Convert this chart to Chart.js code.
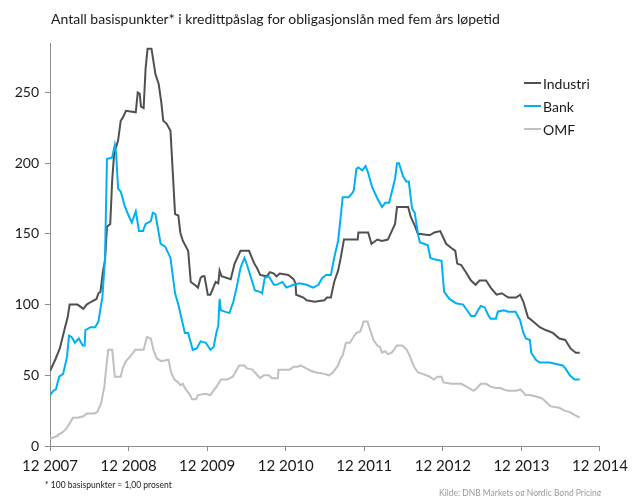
<!DOCTYPE html>
<html>
<head>
<meta charset="utf-8">
<script src="https://cdn.jsdelivr.net/npm/chart.js@4/dist/chart.umd.min.js"></script>
<style>
  body { margin: 0; background: #fff; }
  #wrap { position: relative; width: 634px; height: 496px; overflow: hidden; font-family: Lato, sans-serif; }
  #title { position: absolute; left: 51px; top: 10px; font-size: 14px; color: #1a1a1a; white-space: nowrap; }
  #note { position: absolute; left: 45px; top: 480px; font-size: 8.5px; color: #222; white-space: nowrap; }
  #source { position: absolute; left: 439px; top: 488px; font-size: 8.5px; color: #9a9a9a; white-space: nowrap; }
  canvas { position: absolute; left: 0; top: 0; }
</style>
</head>
<body>
<div id="wrap">
  <canvas id="graph" width="634" height="496"></canvas>
  <div id="title">Antall basispunkter* i kredittpåslag for obligasjonslån med fem års løpetid</div>
  <div id="note">* 100 basispunkter = 1,00 prosent</div>
  <div id="source">Kilde:  DNB Markets og Nordic Bond Pricing</div>
</div>
<script>
// months counted from december 2007
var seriesNames = ['Industri', 'Bank', 'OMF'];
var seriesColors = ['#505050', '#00b0f0', '#c0c0c0'];
var yearLabels = ['12 2007', '12 2008', '12 2009', '12 2010', '12 2011', '12 2012', '12 2013', '12 2014'];

var industriMonths = [0, 0.8, 1.5, 2.3, 2.7, 3.0, 4.2, 4.8, 5.1, 5.6, 6.3, 7.1, 7.4, 7.7, 8.1, 8.4, 8.7, 9.2, 9.5, 9.8,
  10.4, 10.8, 11.1, 11.6, 13.1, 13.4, 13.7, 13.9, 14.3, 14.6, 14.9, 15.5, 16.1, 16.6, 17.0, 17.3, 17.8, 18.4, 18.7, 19.1,
  19.6, 19.9, 20.3, 21.1, 21.5, 22.1, 22.6, 23.0, 23.3, 23.6, 24.1, 24.5, 25.3, 25.7, 25.9, 26.2, 27.6, 28.2, 29.1, 30.4,
  31.2, 31.6, 32.1, 33.1, 33.6, 34.2, 34.6, 35.1, 36.4, 37.2, 37.5, 37.6, 38.7, 39.2, 40.4, 41.9, 42.3, 42.9, 43.4, 44.0,
  44.4, 44.9, 47.0, 47.1, 48.6, 49.1, 50.0, 50.7, 51.6, 52.2, 52.7, 53.0, 54.7, 55.1, 55.7, 56.2, 56.6, 58.0, 58.7, 59.6,
  59.9, 60.5, 61.3, 61.9, 62.2, 62.8, 63.5, 64.3, 65.0, 65.6, 66.6, 67.3, 68.2, 69.0, 70.0, 71.2, 71.8, 72.3, 73.0, 73.8,
  74.8, 75.7, 76.8, 77.8, 78.7, 79.5, 80.3, 80.9];
var industriValues = [53, 61, 69, 84, 91, 100, 100, 98, 97, 100, 102, 104, 108, 109, 124, 131, 155, 157, 188, 207,
  216, 230, 232, 237, 236, 250, 249, 240, 239, 267, 281, 281, 263, 256, 243, 230, 228, 223, 198, 164,
  163, 151, 145, 138, 116, 114, 112, 119, 120, 120, 107, 107, 116, 115, 124, 120, 118, 129, 138, 138,
  129, 126, 121, 120, 123, 122, 120, 122, 121, 118, 115, 107, 105, 103, 102, 103, 105, 105, 116, 124,
  133, 146, 146, 151, 151, 143, 146, 145, 146, 152, 157, 169, 169, 162, 156, 150, 150, 149, 151, 152,
  149, 143, 140, 138, 129, 128, 123, 117, 114, 117, 117, 112, 107, 108, 105, 105, 107, 102, 91, 88,
  84, 82, 80, 76, 75, 69, 66, 66];

var bankMonths = [0, 0.5, 0.9, 1.4, 2.0, 2.6, 2.9, 3.3, 3.8, 4.4, 5.0, 5.3, 5.4, 6.2, 6.9, 7.4, 7.8, 8.0, 8.4, 8.7,
  9.5, 9.9, 10.1, 10.4, 10.8, 11.4, 12.0, 12.5, 13.1, 13.6, 14.2, 14.6, 15.4, 15.7, 16.1, 16.9, 17.6, 18.4, 19.1, 19.6,
  20.0, 20.6, 21.1, 21.8, 22.4, 23.0, 23.8, 24.5, 25.0, 25.4, 25.7, 25.9, 26.1, 26.7, 27.4, 28.0, 28.5, 29.1, 29.7, 30.1,
  30.9, 31.3, 32.1, 32.4, 32.8, 33.4, 34.2, 34.6, 35.5, 36.1, 37.2, 38.1, 39.2, 40.2, 41.0, 41.6, 42.2, 42.9, 43.4, 44.0,
  44.4, 44.7, 45.6, 46.2, 46.4, 46.8, 47.1, 47.7, 48.2, 48.6, 49.2, 50.0, 50.7, 51.2, 51.8, 52.7, 53.0, 53.3, 53.9, 54.4,
  54.8, 55.3, 55.7, 56.2, 56.5, 57.1, 57.7, 58.1, 58.7, 59.8, 60.2, 61.0, 62.0, 63.1, 63.7, 64.3, 64.9, 65.5, 65.8, 66.4,
  67.0, 67.3, 68.1, 68.4, 69.3, 70.0, 71.1, 71.8, 72.3, 72.7, 73.3, 73.5, 74.2, 74.8, 76.3, 78.3, 78.7, 79.4, 80.1, 80.9];
var bankValues = [36, 39, 40, 49, 51, 63, 78, 77, 73, 76, 71, 71, 82, 84, 84, 88, 100, 105, 133, 203,
  204, 213, 207, 182, 180, 170, 163, 158, 166, 152, 152, 157, 159, 165, 164, 143, 141, 133, 108, 100,
  92, 80, 80, 68, 69, 74, 73, 68, 70, 80, 85, 104, 96, 95, 94, 102, 112, 126, 133, 128,
  116, 110, 109, 108, 119, 120, 114, 114, 116, 112, 114, 115, 114, 112, 114, 119, 121, 121, 133, 145,
  162, 176, 176, 179, 181, 196, 197, 195, 198, 193, 183, 175, 169, 172, 172, 189, 200, 200, 191, 187,
  187, 168, 165, 150, 144, 143, 142, 133, 132, 131, 109, 104, 101, 100, 96, 92, 92, 97, 99, 98,
  92, 90, 90, 95, 96, 95, 95, 89, 80, 76, 75, 66, 61, 59, 59, 57, 55, 50, 47, 47];

var omfMonths = [0, 0.5, 1.1, 1.2, 1.7, 2.0, 2.6, 3.0, 3.5, 4.2, 5.1, 5.6, 6.8, 7.2, 7.8, 8.3, 8.6, 8.9, 9.5, 9.9,
  10.8, 11.1, 11.6, 12.2, 12.7, 13.0, 14.3, 14.8, 15.4, 15.8, 16.3, 17.0, 18.1, 18.5, 19.0, 19.6, 19.9, 20.3, 20.6, 21.4,
  21.7, 22.3, 22.6, 23.8, 24.5, 25.1, 25.3, 26.1, 27.1, 27.9, 28.3, 28.9, 29.7, 30.0, 30.9, 31.3, 32.1, 32.7, 33.4, 33.9,
  34.8, 34.9, 36.6, 37.2, 37.9, 38.2, 38.7, 39.5, 39.9, 40.7, 41.9, 42.6, 43.2, 44.0, 44.4, 44.7, 45.2, 45.8, 46.2, 46.8,
  47.4, 47.9, 48.5, 48.9, 49.4, 50.0, 50.4, 50.7, 51.2, 51.6, 52.2, 53.0, 53.8, 54.5, 55.0, 55.6, 56.2, 56.9, 58.0, 58.6,
  59.2, 59.8, 60.1, 61.3, 62.8, 63.2, 64.0, 64.7, 65.2, 65.8, 66.6, 67.3, 68.1, 68.8, 69.3, 70.0, 71.2, 71.8, 72.3, 72.6,
  73.3, 74.2, 75.0, 75.6, 76.0, 76.5, 77.8, 78.6, 79.4, 80.1, 80.9];
var omfValues = [5, 6, 7, 8, 9, 10, 13, 16, 20, 20, 21, 23, 23, 24, 30, 42, 56, 68, 68, 49,
  49, 55, 60, 63, 66, 68, 68, 77, 76, 68, 62, 60, 61, 52, 47, 45, 43, 44, 41, 36,
  33, 33, 36, 37, 36, 40, 41, 47, 47, 49, 52, 57, 57, 55, 54, 52, 48, 50, 50, 48,
  48, 54, 54, 56, 56, 57, 56, 54, 53, 52, 51, 50, 52, 57, 62, 64, 73, 73, 76, 80,
  81, 88, 88, 82, 75, 71, 70, 66, 67, 65, 66, 71, 71, 68, 63, 56, 52, 51, 49, 47,
  49, 49, 45, 44, 44, 43, 41, 39, 41, 44, 44, 42, 41, 41, 40, 39, 39, 40, 38, 36,
  36, 35, 34, 32, 30, 28, 27, 25, 24, 22, 20];

function toPoints(months, values) {
    var pts = [];
    for (let i = 0; i < months.length; i++) {
        pts.push({ x: months[i], y: values[i] });
    }
    return pts;
}
// pair up the month positions and the values for each line

var allMonths = [industriMonths, bankMonths, omfMonths];
var allValues = [industriValues, bankValues, omfValues];

var datasets = [];
for (let i = 0; i < seriesNames.length; i++) {
    datasets.push({
        label: seriesNames[i],
        data: toPoints(allMonths[i], allValues[i]),
        borderColor: seriesColors[i],
        backgroundColor: seriesColors[i],
        borderWidth: 2,
        pointRadius: 0,
        tension: 0,
        order: seriesNames.length - i
    });
}

// legend drawn by hand, a vertical list inside the plot on the right
const sideLegend = {
    id: 'sideLegend',
    afterDraw(chart) {
        const ctx = chart.ctx;
        const area = chart.chartArea;
        const x0 = area.right - 76;
        ctx.save();
        ctx.font = '14px Lato, sans-serif';
        ctx.textBaseline = 'middle';
        chart.data.datasets.forEach((ds, i) => {
            const y = area.top + 40 + i * 23;
            ctx.strokeStyle = ds.borderColor;
            ctx.lineWidth = 2;
            ctx.beginPath();
            ctx.moveTo(x0, y);
            ctx.lineTo(x0 + 17, y);
            ctx.stroke();
            ctx.fillStyle = '#1a1a1a';
            ctx.fillText(ds.label, x0 + 19, y + 1);
        });
        ctx.restore();
    }
};

new Chart(document.getElementById('graph'), {
    type: 'line',
    data: { datasets: datasets },
    options: {
        responsive: false,
        animation: false,
        layout: { padding: { top: 43, right: 26, left: 0, bottom: 0 } },
        plugins: { legend: { display: false }, tooltip: { enabled: false } },
        scales: {
            x: {
                type: 'linear',
                min: 0,
                max: 84,
                afterFit: s => { s.height = 50; },
                ticks: {
                    stepSize: 12,
                    autoSkip: false,
                    maxRotation: 0,
                    padding: 6,
                    color: '#1a1a1a',
                    font: { family: 'Lato', size: 15 },
                    callback: v => yearLabels[v / 12]
                },
                grid: { drawOnChartArea: false, tickLength: 5, color: '#8c8c8c' },
                border: { color: '#8c8c8c', width: 1 }
            },
            y: {
                min: 0,
                max: 285,
                afterFit: s => { s.width = 50; },
                afterBuildTicks: s => { s.ticks = s.ticks.filter(t => t.value % 50 === 0); },
                ticks: {
                    stepSize: 50,
                    padding: 6,
                    color: '#1a1a1a',
                    font: { family: 'Lato', size: 14 }
                },
                grid: { drawOnChartArea: false, tickLength: 5, color: '#8c8c8c' },
                border: { color: '#8c8c8c', width: 1 }
            }
        }
    },
    plugins: [sideLegend]
});
</script>
</body>
</html>
